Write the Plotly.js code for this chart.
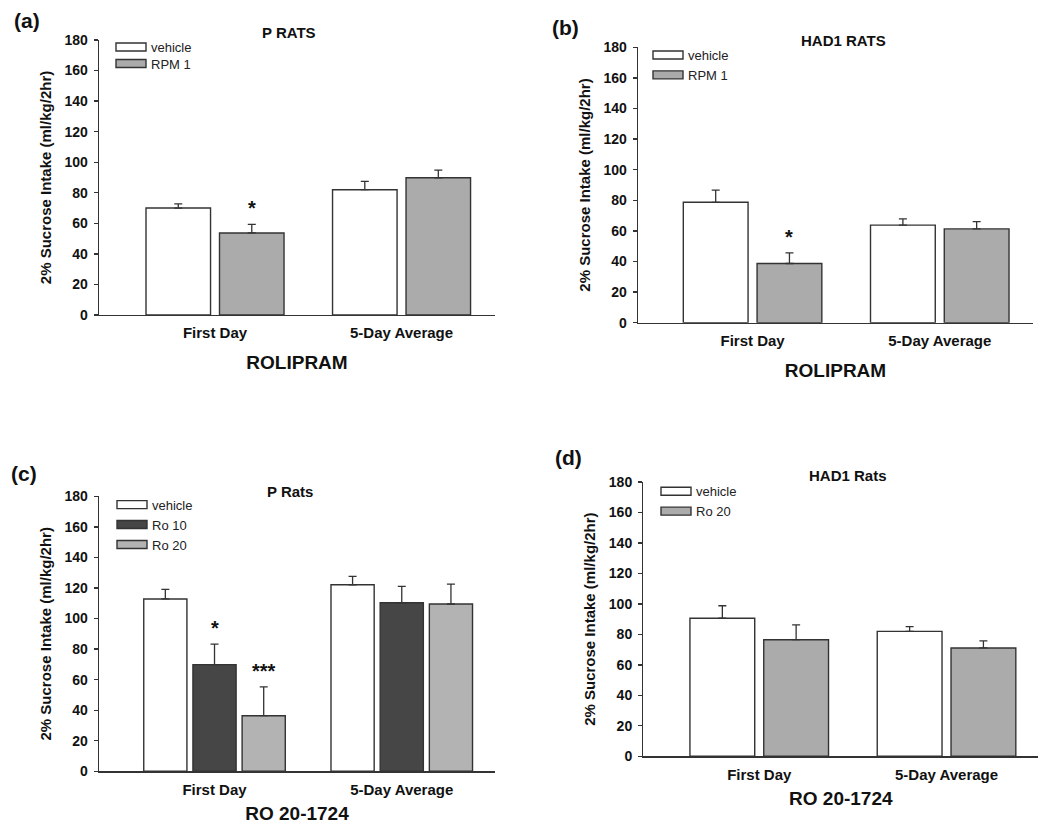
<!DOCTYPE html>
<html>
<head>
<meta charset="utf-8">
<script src="https://cdn.plot.ly/plotly-3.0.1.min.js"></script>
<style>
  html, body { margin: 0; padding: 0; background: #fff; }
  #chart { width: 1050px; height: 826px; }
</style>
</head>
<body>
<div id="chart"></div>
<script>
// ---------- data ----------
const categories = ['First Day', '5-Day Average'];

// (a) P RATS, Rolipram
const a_vehicle = [70.0, 82.0];
const a_vehicle_err = [2.7, 5.5];
const a_rpm1 = [53.7, 89.8];
const a_rpm1_err = [5.6, 5.0];
const a_rpm1_sig = ['*', ''];

// (b) HAD1 RATS, Rolipram
const b_vehicle = [78.7, 63.8];
const b_vehicle_err = [8.0, 4.0];
const b_rpm1 = [38.7, 61.3];
const b_rpm1_err = [7.0, 4.8];
const b_rpm1_sig = ['*', ''];

// (c) P Rats, RO 20-1724
const c_vehicle = [112.8, 122.1];
const c_vehicle_err = [6.3, 5.5];
const c_ro10 = [69.8, 110.3];
const c_ro10_err = [13.5, 10.7];
const c_ro10_sig = ['*', ''];
const c_ro20 = [36.4, 109.5];
const c_ro20_err = [18.8, 13.0];
const c_ro20_sig = ['***', ''];

// (d) HAD1 Rats, RO 20-1724
const d_vehicle = [90.6, 82.0];
const d_vehicle_err = [8.2, 3.1];
const d_ro20 = [76.5, 71.1];
const d_ro20_err = [9.7, 4.6];

const yTickVals = [0, 20, 40, 60, 80, 100, 120, 140, 160, 180];

// ---------- styling ----------
const FONT = '"Liberation Sans", Arial, Helvetica, sans-serif';
const INK = '#333333';
const WHITE = '#ffffff';
const GREY = '#ababab';
const DARK = '#464646';
const LIGHT = '#b3b3b3';
const BARGAP = 0.212;
const BARGROUPGAP = 0.122;
const LEGEND_ROW = 16.5;

function barTrace(name, y, err, color, xa, ya, legend) {
  return {
    type: 'bar', name: name, x: categories, y: y,
    xaxis: xa, yaxis: ya, legend: legend,
    marker: { color: color, line: { color: INK, width: 1.4 } },
    error_y: { type: 'data', array: err, arrayminus: err.map(() => 0),
               symmetric: false, color: INK, thickness: 1.3, width: 4 },
    hoverinfo: 'skip'
  };
}

const traces = [
  barTrace('vehicle', a_vehicle, a_vehicle_err, WHITE, 'x', 'y', 'legend'),
  barTrace('RPM 1', a_rpm1, a_rpm1_err, GREY, 'x', 'y', 'legend'),
  barTrace('vehicle', b_vehicle, b_vehicle_err, WHITE, 'x2', 'y2', 'legend2'),
  barTrace('RPM 1', b_rpm1, b_rpm1_err, GREY, 'x2', 'y2', 'legend2'),
  barTrace('vehicle', c_vehicle, c_vehicle_err, WHITE, 'x3', 'y3', 'legend3'),
  barTrace('Ro 10', c_ro10, c_ro10_err, DARK, 'x3', 'y3', 'legend3'),
  barTrace('Ro 20', c_ro20, c_ro20_err, LIGHT, 'x3', 'y3', 'legend3'),
  barTrace('vehicle', d_vehicle, d_vehicle_err, WHITE, 'x4', 'y4', 'legend4'),
  barTrace('Ro 20', d_ro20, d_ro20_err, GREY, 'x4', 'y4', 'legend4')
];

// ---------- layout helpers ----------
const W = 1050, H = 826;
const px = v => v / W;
const py = v => 1 - v / H;

function xAxis(domL, domR, range, title, standoff) {
  return {
    domain: [px(domL), px(domR)], range: range, type: 'category',
    showline: true, linecolor: INK, linewidth: 1.3, ticks: '',
    showgrid: false, zeroline: false, fixedrange: true,
    tickfont: { family: FONT, size: 15, color: '#111', weight: 'bold' },
    ticklabelstandoff: 4,
    title: { text: title, standoff: standoff,
             font: { family: FONT, size: 19, color: '#111', weight: 'bold' } }
  };
}
function yAxis(top, bottom, anchor) {
  return {
    domain: [py(bottom), py(top)], range: [0, 180], anchor: anchor,
    tickvals: yTickVals, ticks: 'outside', ticklen: 4, tickwidth: 1.3, tickcolor: INK,
    showline: true, linecolor: INK, linewidth: 1.3,
    showgrid: false, zeroline: false, fixedrange: true,
    tickfont: { family: FONT, size: 14, color: '#111', weight: 'bold' },
    ticklabelstandoff: 3,
    title: { text: '2% Sucrose Intake (ml/kg/2hr)', standoff: 9,
             font: { family: FONT, size: 15, color: '#111', weight: 'bold' } }
  };
}
function legendAt(textLeft, firstCenterY) {
  return {
    x: px(textLeft - 40), y: py(firstCenterY - 15), xanchor: 'left', yanchor: 'top',
    bgcolor: 'rgba(0,0,0,0)', borderwidth: 0, tracegroupgap: 0,
    traceorder: 'normal',
    font: { family: FONT, size: 13, color: '#222' }
  };
}

// significance markers placed above error bars, at each bar's group offset
function barOffset(i, n) {
  const slot = (1 - BARGAP) / n;
  return -(1 - BARGAP) / 2 + slot * (i + 0.5);
}
const annotations = [];
function addSig(sig, vals, errs, i, n, xref, yref) {
  sig.forEach((s, k) => {
    if (!s) return;
    annotations.push({
      text: s, x: k + barOffset(i, n), y: vals[k] + errs[k],
      xref: xref, yref: yref, yanchor: 'bottom', xanchor: 'center', yshift: 3,
      showarrow: false, font: { family: FONT, size: 20, color: '#111', weight: 'bold' }
    });
  });
}
addSig(a_rpm1_sig, a_rpm1, a_rpm1_err, 1, 2, 'x', 'y');
addSig(b_rpm1_sig, b_rpm1, b_rpm1_err, 1, 2, 'x2', 'y2');
addSig(c_ro10_sig, c_ro10, c_ro10_err, 1, 3, 'x3', 'y3');
addSig(c_ro20_sig, c_ro20, c_ro20_err, 2, 3, 'x3', 'y3');

function label(text, x, y, size) {
  annotations.push({
    text: text, x: px(x), y: py(y), xref: 'paper', yref: 'paper',
    xanchor: 'center', yanchor: 'middle', showarrow: false,
    font: { family: FONT, size: size, color: '#111', weight: 'bold' }
  });
}
// panel titles
label('P RATS', 289, 33, 15);
label('HAD1 RATS', 843, 41, 15);
label('P Rats', 290, 491, 15);
label('HAD1 Rats', 848, 475, 15);
// panel letters
label('(a)', 27, 20, 21);
label('(b)', 565, 27, 21);
label('(c)', 24, 473, 21);
label('(d)', 568, 457, 21);

const layout = {
  width: W, height: H,
  margin: { l: 0, r: 0, t: 0, b: 0 },
  paper_bgcolor: '#ffffff', plot_bgcolor: '#ffffff',
  font: { family: FONT, color: '#111' },
  barmode: 'group', bargap: BARGAP, bargroupgap: BARGROUPGAP,
  showlegend: true,
  xaxis: Object.assign(xAxis(99, 495, [-0.622, 1.501], 'ROLIPRAM', 15), { anchor: 'y' }),
  yaxis: yAxis(40, 315, 'x'),
  xaxis2: Object.assign(xAxis(638, 1033, [-0.612, 1.498], 'ROLIPRAM', 15), { anchor: 'y2' }),
  yaxis2: yAxis(47.3, 322.7, 'x2'),
  xaxis3: Object.assign(xAxis(99, 495, [-0.617, 1.498], 'RO 20-1724', 10), { anchor: 'y3' }),
  yaxis3: yAxis(496.3, 771.3, 'x3'),
  xaxis4: Object.assign(xAxis(643.3, 1038.3, [-0.619, 1.49], 'RO 20-1724', 10), { anchor: 'y4' }),
  yaxis4: yAxis(482, 756.3, 'x4'),
  legend: legendAt(151, 47),
  legend2: legendAt(688, 55),
  legend3: legendAt(152, 504.7),
  legend4: legendAt(696, 491.3),
  annotations: annotations
};

Plotly.newPlot('chart', traces, layout, { staticPlot: true, displayModeBar: false }).then(gd => {
  // flat rectangular swatches and tighter rows, as in the original figure legends
  gd.querySelectorAll('.legendpoints path').forEach(p => {
    p.setAttribute('d', 'M15,4H-15V-4H15Z');
  });
  gd.querySelectorAll('g.legend').forEach(lg => {
    const items = lg.querySelectorAll('g.traces');
    let y0 = null;
    items.forEach((it, i) => {
      const m = /translate\(\s*([-\d.]+)[ ,]+([-\d.]+)\s*\)/.exec(it.getAttribute('transform') || '');
      if (!m) return;
      const x = parseFloat(m[1]), y = parseFloat(m[2]);
      if (y0 === null) y0 = y;
      it.setAttribute('transform', 'translate(' + x + ',' + (y0 + i * LEGEND_ROW) + ')');
    });
  });
});
</script>
</body>
</html>
